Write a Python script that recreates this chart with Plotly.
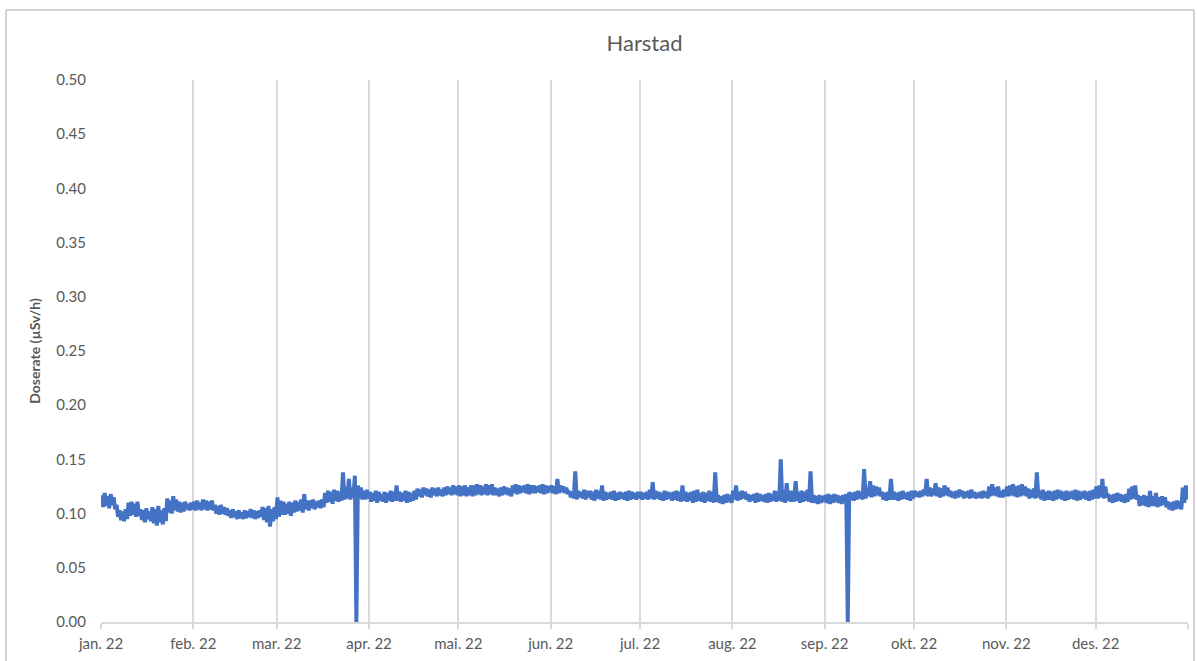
import pandas as pd
import plotly.graph_objects as go

title = "Harstad"
y_title = "Doserate (µSv/h)"
month_ticks = ["2022-01-01", "2022-02-01", "2022-03-01", "2022-04-01", "2022-05-01", "2022-06-01",
               "2022-07-01", "2022-08-01", "2022-09-01", "2022-10-01", "2022-11-01", "2022-12-01",
               "2023-01-01"]
month_labels = ["jan. 22", "feb. 22", "mar. 22", "apr. 22", "mai. 22", "jun. 22",
                "jul. 22", "aug. 22", "sep. 22", "okt. 22", "nov. 22", "des. 22", ""]

# daily high readings (µSv/h), one row per month
daily_high = [
    0.117, 0.119, 0.116, 0.118, 0.115, 0.108, 0.103, 0.102, 0.104, 0.110, 0.111, 0.109, 0.111, 0.104, 0.103, 0.105,
    0.102, 0.106, 0.104, 0.107, 0.103, 0.105, 0.114, 0.112, 0.116, 0.113, 0.111, 0.110, 0.111, 0.109, 0.110,
    0.111, 0.112, 0.110, 0.113, 0.112, 0.111, 0.112, 0.108, 0.107, 0.108, 0.106, 0.105, 0.103, 0.104,
    0.102, 0.103, 0.101, 0.103, 0.102, 0.104, 0.103, 0.102, 0.103, 0.106, 0.105, 0.107, 0.104, 0.106,
    0.115, 0.112, 0.111, 0.109, 0.111, 0.110, 0.112, 0.111, 0.113, 0.118, 0.112, 0.112, 0.113, 0.111, 0.112, 0.113,
    0.119, 0.121, 0.120, 0.122, 0.121, 0.120, 0.138, 0.125, 0.132, 0.124, 0.135, 0.126, 0.124, 0.121, 0.122,
    0.120, 0.119, 0.121, 0.120, 0.118, 0.120, 0.119, 0.121, 0.120, 0.126, 0.120, 0.119, 0.121, 0.120, 0.119,
    0.121, 0.123, 0.122, 0.124, 0.123, 0.122, 0.124, 0.123, 0.124, 0.122, 0.124, 0.125, 0.124, 0.126, 0.125,
    0.126, 0.125, 0.126, 0.124, 0.126, 0.126, 0.127, 0.126, 0.125, 0.127, 0.126, 0.127, 0.124, 0.123, 0.124, 0.125,
    0.124, 0.123, 0.126, 0.127, 0.126, 0.125, 0.126, 0.127, 0.126, 0.126, 0.125, 0.126, 0.127, 0.126, 0.125,
    0.126, 0.125, 0.132, 0.126, 0.125, 0.124, 0.121, 0.120, 0.139, 0.121, 0.120, 0.122, 0.121, 0.121, 0.120,
    0.122, 0.121, 0.126, 0.120, 0.119, 0.120, 0.121, 0.119, 0.120, 0.119, 0.120, 0.121, 0.120, 0.119, 0.120,
    0.120, 0.119, 0.120, 0.122, 0.129, 0.121, 0.120, 0.119, 0.121, 0.120, 0.119, 0.120, 0.121, 0.120, 0.126, 0.120,
    0.119, 0.120, 0.121, 0.122, 0.119, 0.120, 0.119, 0.121, 0.120, 0.138, 0.117, 0.116, 0.117, 0.118, 0.117,
    0.121, 0.126, 0.120, 0.121, 0.120, 0.118, 0.117, 0.118, 0.119, 0.118, 0.117, 0.118, 0.119, 0.118, 0.121, 0.120,
    0.150, 0.121, 0.128, 0.121, 0.121, 0.130, 0.120, 0.121, 0.120, 0.122, 0.139, 0.117, 0.116, 0.117, 0.116,
    0.117, 0.118, 0.117, 0.118, 0.117, 0.116, 0.117, 0.118, 0.120, 0.119, 0.120, 0.121, 0.120, 0.141, 0.124,
    0.130, 0.126, 0.125, 0.124, 0.120, 0.119, 0.120, 0.132, 0.120, 0.119, 0.120, 0.121, 0.119, 0.120, 0.121,
    0.121, 0.120, 0.121, 0.122, 0.132, 0.124, 0.123, 0.128, 0.124, 0.123, 0.126, 0.124, 0.121, 0.120, 0.121, 0.122,
    0.121, 0.120, 0.121, 0.122, 0.120, 0.119, 0.120, 0.121, 0.120, 0.125, 0.127, 0.124, 0.125, 0.121, 0.122,
    0.125, 0.126, 0.127, 0.125, 0.126, 0.127, 0.125, 0.123, 0.122, 0.123, 0.138, 0.121, 0.122, 0.120, 0.121,
    0.120, 0.121, 0.122, 0.121, 0.120, 0.121, 0.120, 0.121, 0.122, 0.121, 0.120, 0.121, 0.120, 0.121, 0.122,
    0.125, 0.126, 0.132, 0.125, 0.118, 0.117, 0.118, 0.119, 0.118, 0.117, 0.118, 0.123, 0.125, 0.126, 0.117, 0.116,
    0.117, 0.116, 0.121, 0.116, 0.119, 0.115, 0.116, 0.115, 0.111, 0.110, 0.111, 0.112, 0.111, 0.124, 0.126,
]

# daily low readings (µSv/h), one row per month
daily_low = [
    0.106, 0.107, 0.105, 0.108, 0.104, 0.097, 0.094, 0.093, 0.095, 0.098, 0.099, 0.097, 0.098, 0.094, 0.092, 0.095,
    0.093, 0.091, 0.089, 0.092, 0.090, 0.093, 0.101, 0.100, 0.103, 0.102, 0.101, 0.102, 0.104, 0.103, 0.104,
    0.103, 0.104, 0.103, 0.104, 0.103, 0.104, 0.103, 0.100, 0.099, 0.100, 0.099, 0.098, 0.096, 0.097,
    0.095, 0.096, 0.095, 0.096, 0.097, 0.096, 0.095, 0.096, 0.097, 0.094, 0.092, 0.088, 0.093, 0.095,
    0.097, 0.099, 0.099, 0.100, 0.098, 0.101, 0.102, 0.103, 0.101, 0.104, 0.103, 0.105, 0.104, 0.106, 0.105, 0.106,
    0.110, 0.111, 0.109, 0.112, 0.111, 0.112, 0.113, 0.114, 0.113, 0.115, 0.000, 0.114, 0.113, 0.113, 0.114,
    0.111, 0.112, 0.110, 0.112, 0.111, 0.110, 0.112, 0.111, 0.112, 0.112, 0.111, 0.112, 0.110, 0.111, 0.112,
    0.113, 0.116, 0.115, 0.117, 0.116, 0.115, 0.117, 0.116, 0.117, 0.116, 0.117, 0.118, 0.117, 0.118, 0.117,
    0.116, 0.117, 0.116, 0.117, 0.116, 0.117, 0.118, 0.117, 0.118, 0.117, 0.118, 0.117, 0.117, 0.116, 0.117, 0.118,
    0.117, 0.116, 0.119, 0.118, 0.119, 0.120, 0.119, 0.118, 0.119, 0.119, 0.120, 0.119, 0.118, 0.119, 0.120,
    0.119, 0.118, 0.119, 0.120, 0.119, 0.118, 0.115, 0.114, 0.113, 0.115, 0.114, 0.113, 0.115, 0.113, 0.112,
    0.114, 0.113, 0.112, 0.113, 0.114, 0.113, 0.112, 0.113, 0.114, 0.113, 0.112, 0.113, 0.114, 0.113, 0.114,
    0.113, 0.114, 0.113, 0.114, 0.113, 0.114, 0.113, 0.112, 0.113, 0.114, 0.112, 0.113, 0.112, 0.111, 0.112, 0.111,
    0.112, 0.110, 0.111, 0.112, 0.111, 0.110, 0.112, 0.111, 0.110, 0.111, 0.110, 0.109, 0.110, 0.111, 0.110,
    0.113, 0.112, 0.113, 0.114, 0.113, 0.111, 0.112, 0.110, 0.111, 0.112, 0.111, 0.110, 0.111, 0.112, 0.111, 0.112,
    0.111, 0.110, 0.112, 0.111, 0.111, 0.112, 0.110, 0.111, 0.112, 0.111, 0.110, 0.110, 0.109, 0.110, 0.111,
    0.110, 0.109, 0.110, 0.111, 0.110, 0.109, 0.110, 0.000, 0.113, 0.112, 0.113, 0.114, 0.113, 0.114, 0.116,
    0.115, 0.116, 0.117, 0.116, 0.113, 0.112, 0.113, 0.113, 0.113, 0.112, 0.113, 0.114, 0.113, 0.112, 0.114,
    0.116, 0.115, 0.116, 0.117, 0.116, 0.116, 0.117, 0.116, 0.115, 0.116, 0.117, 0.116, 0.115, 0.114, 0.115, 0.116,
    0.114, 0.115, 0.114, 0.115, 0.114, 0.115, 0.114, 0.115, 0.114, 0.116, 0.117, 0.116, 0.115, 0.115, 0.116,
    0.116, 0.117, 0.116, 0.115, 0.116, 0.117, 0.116, 0.114, 0.115, 0.114, 0.115, 0.113, 0.112, 0.113, 0.113,
    0.112, 0.113, 0.114, 0.113, 0.112, 0.113, 0.114, 0.113, 0.112, 0.113, 0.114, 0.113, 0.112, 0.113, 0.114,
    0.114, 0.115, 0.114, 0.115, 0.111, 0.110, 0.111, 0.112, 0.111, 0.110, 0.111, 0.113, 0.114, 0.113, 0.107, 0.108,
    0.107, 0.106, 0.107, 0.107, 0.106, 0.107, 0.108, 0.106, 0.104, 0.103, 0.104, 0.105, 0.104, 0.110, 0.113,
]

days = pd.date_range("2022-01-01", periods=len(daily_high), freq="D")
times, values = [], []
for d, hi, lo in zip(days, daily_high, daily_low):
    times.append(d + pd.Timedelta(hours=6))
    values.append(hi)
    times.append(d + pd.Timedelta(hours=18))
    values.append(lo)

fig = go.Figure()
fig.add_trace(go.Scatter(x=times, y=values, mode="lines",
                         line=dict(color="#4472C4", width=4), hoverinfo="x+y"))

grey = "#595959"
fig.update_layout(
    width=1197, height=661,
    margin=dict(l=101, r=9, t=80, b=39),
    paper_bgcolor="white", plot_bgcolor="white",
    showlegend=False,
    font=dict(family="Lato, Open Sans, sans-serif", color=grey, size=15),
    title=dict(text=title, x=0.5, xref="paper", xanchor="center", y=0.935, yanchor="middle",
               font=dict(size=22, color=grey, family="Lato, Open Sans, sans-serif")),
    xaxis=dict(range=[month_ticks[0], month_ticks[-1]], tickmode="array",
               tickvals=month_ticks, ticktext=month_labels,
               showgrid=True, gridcolor="#D9D9D9", gridwidth=1.5,
               showline=True, linecolor="#D9D9D9", linewidth=1.5,
               ticks="outside", ticklen=5, tickcolor="#D9D9D9", tickwidth=1.5,
               ticklabelstandoff=2,
               tickfont=dict(size=15, color=grey), zeroline=False),
    yaxis=dict(range=[0, 0.5], dtick=0.05, tick0=0, tickformat=".2f",
               showgrid=False, zeroline=False, showline=False, ticks="",
               ticklabelstandoff=14,
               tickfont=dict(size=15, color=grey),
               title=dict(text="<b>" + y_title + "</b>", font=dict(size=14, color=grey), standoff=12)),
)
fig.add_shape(type="rect", xref="paper", yref="paper",
              x0=(6 - 101) / 1087, x1=(1194 - 101) / 1087,
              y0=(622 - 675) / 542, y1=(622 - 10) / 542,
              line=dict(color="#A6A6A6", width=1), fillcolor="rgba(0,0,0,0)", layer="below")

fig.write_html("out.html", config={"displayModeBar": False},
               post_script="document.body.style.margin='0';document.body.style.overflow='hidden';")
